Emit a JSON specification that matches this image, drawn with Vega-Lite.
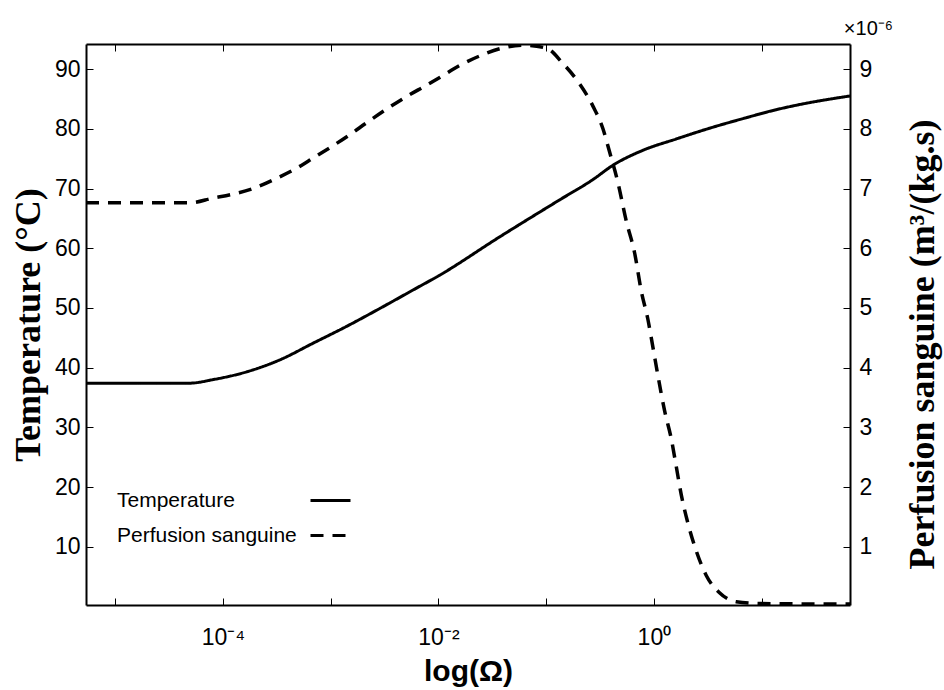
{
  "$schema": "https://vega.github.io/schema/vega-lite/v6.json",
  "autosize": {"type": "none"},
  "padding": {"left": 86, "top": 44, "right": 94, "bottom": 85},
  "width": 764,
  "height": 561,
  "background": "white",
  "title": {"text": "×10⁻⁶", "anchor": "end", "frame": "group", "dx": 43, "offset": -11, "baseline": "alphabetic", "font": "Liberation Sans", "fontSize": 20, "fontWeight": "normal", "color": "black"},
  "datasets": {
    "temp": [
      {"omega": 5.35e-6, "temperature": 37.4},
      {"omega": 4.9e-5, "temperature": 37.4},
      {"omega": 8.1e-5, "temperature": 38.0},
      {"omega": 1.66e-4, "temperature": 39.3},
      {"omega": 3.37e-4, "temperature": 41.3},
      {"omega": 6.87e-4, "temperature": 44.1},
      {"omega": 1.40e-3, "temperature": 46.9},
      {"omega": 2.85e-3, "temperature": 49.9},
      {"omega": 5.81e-3, "temperature": 53.0},
      {"omega": 1.03e-2, "temperature": 55.5},
      {"omega": 3.70e-2, "temperature": 61.9},
      {"omega": 0.1334, "temperature": 68.1},
      {"omega": 0.2716, "temperature": 71.5},
      {"omega": 0.417, "temperature": 73.9},
      {"omega": 0.791, "temperature": 76.4},
      {"omega": 1.615, "temperature": 78.3},
      {"omega": 3.29, "temperature": 80.1},
      {"omega": 6.70, "temperature": 81.7},
      {"omega": 13.65, "temperature": 83.2},
      {"omega": 21.7, "temperature": 84.0},
      {"omega": 66.1, "temperature": 85.5}
    ],
    "perf": [
      {"omega": 5.35e-6, "perfusion": 6.76e-6},
      {"omega": 4.91e-5, "perfusion": 6.76e-6},
      {"omega": 8.11e-5, "perfusion": 6.84e-6},
      {"omega": 1.20e-4, "perfusion": 6.90e-6},
      {"omega": 1.905e-4, "perfusion": 7.00e-6},
      {"omega": 3.14e-4, "perfusion": 7.17e-6},
      {"omega": 4.82e-4, "perfusion": 7.34e-6},
      {"omega": 6.87e-4, "perfusion": 7.51e-6},
      {"omega": 1.016e-3, "perfusion": 7.70e-6},
      {"omega": 1.503e-3, "perfusion": 7.90e-6},
      {"omega": 2.15e-3, "perfusion": 8.10e-6},
      {"omega": 3.30e-3, "perfusion": 8.33e-6},
      {"omega": 5.05e-3, "perfusion": 8.54e-6},
      {"omega": 7.74e-3, "perfusion": 8.73e-6},
      {"omega": 1.028e-2, "perfusion": 8.86e-6},
      {"omega": 1.574e-2, "perfusion": 9.06e-6},
      {"omega": 2.415e-2, "perfusion": 9.22e-6},
      {"omega": 3.70e-2, "perfusion": 9.34e-6},
      {"omega": 6.05e-2, "perfusion": 9.40e-6},
      {"omega": 0.1005, "perfusion": 9.35e-6},
      {"omega": 0.1422, "perfusion": 9.10e-6},
      {"omega": 0.2046, "perfusion": 8.75e-6},
      {"omega": 0.2716, "perfusion": 8.38e-6},
      {"omega": 0.3365, "perfusion": 8.00e-6},
      {"omega": 0.388, "perfusion": 7.61e-6},
      {"omega": 0.4634, "perfusion": 7.10e-6},
      {"omega": 0.5546, "perfusion": 6.45e-6},
      {"omega": 0.6622, "perfusion": 5.92e-6},
      {"omega": 0.7638, "perfusion": 5.28e-6},
      {"omega": 0.879, "perfusion": 4.81e-6},
      {"omega": 0.9795, "perfusion": 4.34e-6},
      {"omega": 1.089, "perfusion": 3.87e-6},
      {"omega": 1.256, "perfusion": 3.28e-6},
      {"omega": 1.449, "perfusion": 2.81e-6},
      {"omega": 1.614, "perfusion": 2.34e-6},
      {"omega": 1.795, "perfusion": 1.87e-6},
      {"omega": 2.065, "perfusion": 1.40e-6},
      {"omega": 2.472, "perfusion": 0.93e-6},
      {"omega": 3.062, "perfusion": 0.52e-6},
      {"omega": 4.064, "perfusion": 0.23e-6},
      {"omega": 5.808, "perfusion": 0.08e-6},
      {"omega": 9.57, "perfusion": 0.05e-6},
      {"omega": 66.1, "perfusion": 0.04e-6}
    ]
  },
  "layer": [
    {
      "data": {"name": "temp"},
      "mark": {"type": "line", "color": "black", "strokeWidth": 3, "clip": true, "interpolate": "monotone"},
      "encoding": {
        "x": {
          "field": "omega", "type": "quantitative",
          "scale": {"type": "log", "domain": [5.35e-6, 66.1], "nice": false},
          "axis": {
            "orient": "bottom",
            "values": [1e-5, 1e-4, 1e-3, 1e-2, 1e-1, 1, 10],
            "labelExpr": "datum.value == 0.0001 ? '10⁻⁴' : datum.value == 0.01 ? '10⁻²' : datum.value == 1 ? '10⁰' : ''",
            "labelOverlap": false, "labelFlush": false,
            "tickSize": -7, "tickColor": "black", "tickWidth": 1,
            "labelPadding": 28, "labelFontSize": 23, "labelFont": "Liberation Sans", "labelColor": "black",
            "domainColor": "black", "domainWidth": 2, "grid": false,
            "title": "log(Ω)", "titleFont": "Liberation Sans", "titleFontSize": 30, "titleFontWeight": "bold", "titleColor": "black",
            "titleY": 66, "titleBaseline": "middle"
          }
        },
        "y": {
          "field": "temperature", "type": "quantitative",
          "scale": {"domain": [0.25, 94.2], "nice": false, "zero": false},
          "axis": {
            "orient": "left",
            "values": [10, 20, 30, 40, 50, 60, 70, 80, 90],
            "tickSize": -7, "tickColor": "black", "tickWidth": 1,
            "labelPadding": 13, "labelFontSize": 23, "labelFont": "Liberation Sans", "labelColor": "black",
            "domainColor": "black", "domainWidth": 2, "grid": false,
            "title": "Temperature (°C)", "titleFont": "Liberation Serif", "titleFontSize": 36, "titleFontWeight": "bold", "titleColor": "black",
            "titleAngle": 270, "titleX": -58, "titleY": 280.5, "titleBaseline": "middle", "titleAlign": "center"
          }
        },
        "strokeDash": {
          "datum": "Temperature", "type": "nominal",
          "scale": {"domain": ["Temperature", "Perfusion sanguine"], "range": [[1, 0], [13, 9]]},
          "legend": {
            "orient": "none", "legendX": -11, "legendY": 435, "title": null,
            "symbolType": "stroke", "symbolSize": 1600, "symbolStrokeWidth": 3, "symbolStrokeColor": "black",
            "symbolOffset": 234, "labelOffset": -235, "labelLimit": 400, "labelFontSize": 21, "labelFont": "Liberation Sans", "labelColor": "black",
            "rowPadding": 3, "padding": 0
          }
        }
      }
    },
    {
      "data": {"name": "perf"},
      "mark": {"type": "line", "color": "black", "strokeWidth": 3.5, "clip": true, "interpolate": "monotone"},
      "encoding": {
        "x": {
          "field": "omega", "type": "quantitative",
          "axis": {
            "orient": "top",
            "values": [1e-5, 1e-4, 1e-3, 1e-2, 1e-1, 1, 10],
            "labels": false, "tickSize": -7, "tickColor": "black", "tickWidth": 1,
            "domainColor": "black", "domainWidth": 2, "grid": false, "title": null
          }
        },
        "y": {
          "field": "perfusion", "type": "quantitative",
          "scale": {"domain": [0.025e-6, 9.42e-6], "nice": false, "zero": false},
          "axis": {
            "orient": "right",
            "values": [1e-6, 2e-6, 3e-6, 4e-6, 5e-6, 6e-6, 7e-6, 8e-6, 9e-6],
            "labelExpr": "format(round(datum.value * 1e6), 'd')",
            "tickSize": -7, "tickColor": "black", "tickWidth": 1,
            "labelPadding": 16, "labelFontSize": 23, "labelFont": "Liberation Sans", "labelColor": "black",
            "domainColor": "black", "domainWidth": 2, "grid": false,
            "title": "Perfusion sanguine (m³/(kg.s)", "titleFont": "Liberation Serif", "titleFontSize": 36, "titleFontWeight": "bold", "titleColor": "black",
            "titleAngle": 270, "titleX": 72.5, "titleY": 300, "titleBaseline": "middle", "titleAlign": "center"
          }
        },
        "strokeDash": {"datum": "Perfusion sanguine", "type": "nominal"}
      }
    }
  ],
  "resolve": {"scale": {"y": "independent"}, "axis": {"x": "independent", "y": "independent"}},
  "config": {"view": {"stroke": null}}
}
